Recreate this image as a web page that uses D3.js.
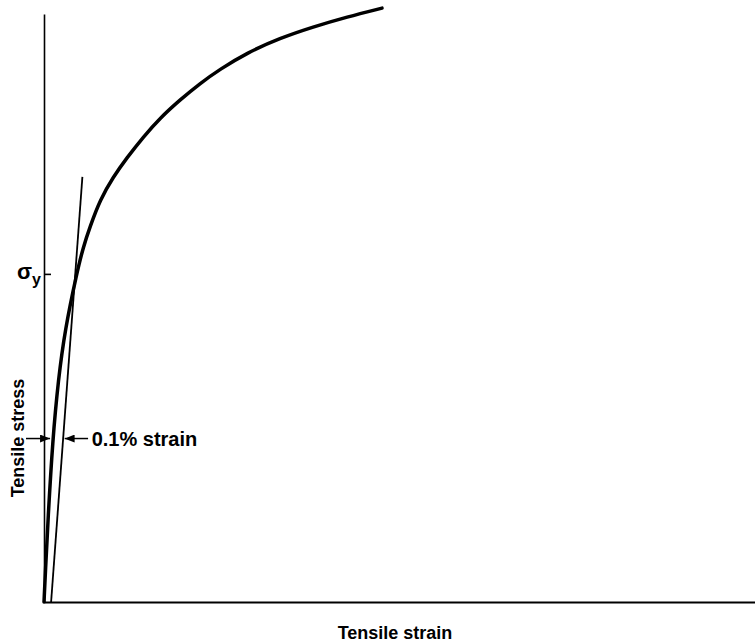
<!DOCTYPE html>
<html>
<head>
    <meta charset="utf-8">
    <title>Tensile stress-strain</title>
    <style>
        * { margin: 0; padding: 0; }
        body { background: #fff; }
        text { font-family: "Liberation Sans", Arial, Helvetica, sans-serif; fill: #000; }
    </style>
    <script src="https://cdn.jsdelivr.net/npm/d3@7/dist/d3.min.js"></script>
</head>
<body>
    <div id="root"></div>
    <script>
        // stress-strain curve, strain in %, stress in arbitrary units (0-100)
        var strain = [0, 0.021, 0.056, 0.122, 0.201, 0.295, 0.460, 0.553, 0.647, 0.788, 0.975, 1.163, 1.397, 1.631, 1.913, 2.194, 2.475, 2.855, 3.319, 3.783, 4.262, 4.754];
        var stress = [0, 5.4, 14.0, 27.6, 37.8, 46.3, 55.9, 60.4, 63.8, 68.4, 72.3, 75.5, 79.1, 82.3, 85.4, 88.2, 90.6, 93.4, 95.9, 97.8, 99.5, 101.0];
        // 0.1% offset line (parallel to elastic part)
        var offsetStrain = [0.1, 0.54];
        var offsetStress = [0, 72.3];
        var yieldStress = 55.8;
        var markStress = 27.8;  // level of the "0.1% strain" arrows

        var width = 755, height = 644;
        var margin = { left: 44, right: 0, top: 14, bottom: 42 };

        var svg = d3.select("#root").append("svg")
            .attr("width", width).attr("height", height);

        var x = d3.scaleLinear().domain([0, 10]).range([margin.left, width - margin.right]);
        var y = d3.scaleLinear().domain([0, 100]).range([height - margin.bottom, margin.top]);

        // axes
        var xAxis = d3.axisBottom(x).tickValues([]).tickSizeOuter(0);
        svg.append("g").attr("class", "x-axis")
            .attr("transform", `translate(0, ${y(0)})`)
            .call(xAxis)
            .select(".domain").attr("stroke", "#000").attr("stroke-width", 2);

        var yAxis = d3.axisLeft(y).tickValues([yieldStress]).tickSizeInner(-7).tickSizeOuter(0).tickFormat("");
        var gy = svg.append("g").attr("class", "y-axis")
            .attr("transform", `translate(${x(0)}, 0)`)
            .call(yAxis);
        gy.select(".domain").attr("stroke", "#000").attr("stroke-width", 1.6);
        gy.selectAll(".tick line").attr("stroke", "#000").attr("stroke-width", 1.6);

        // sigma_y label
        var sig = svg.append("text")
            .attr("x", x(0) - 27).attr("y", y(yieldStress) + 5)
            .attr("text-anchor", "start")
            .style("font-size", "22px").style("font-weight", "bold");
        sig.append("tspan").text("σ");
        sig.append("tspan").attr("dy", 6).style("font-size", "16px").text("y");

        // offset line
        var line = d3.line().x(function (d) { return x(d[0]); }).y(function (d) { return y(d[1]); });
        svg.append("path")
            .datum(d3.zip(offsetStrain, offsetStress))
            .attr("d", line)
            .attr("fill", "none").attr("stroke", "#000").attr("stroke-width", 1.8);

        // stress-strain curve
        var curve = d3.line()
            .x(function (d) { return x(d[0]); })
            .y(function (d) { return y(d[1]); })
            .curve(d3.curveBasis);
        svg.append("path")
            .datum(d3.zip(strain, stress))
            .attr("d", curve)
            .attr("fill", "none").attr("stroke", "#000").attr("stroke-width", 3.5)
            .attr("stroke-linecap", "round");

        // arrows
        var defs = svg.append("defs");
        defs.append("marker").attr("id", "arrow")
            .attr("viewBox", "0 0 10 8").attr("refX", 10).attr("refY", 4)
            .attr("markerWidth", 10).attr("markerHeight", 8)
            .attr("markerUnits", "userSpaceOnUse").attr("orient", "auto")
            .append("path").attr("d", "M0,0 L10,4 L0,8 Z").attr("fill", "#000");

        var ym = y(markStress);
        svg.append("line")
            .attr("x1", x(0) - 18).attr("x2", x(0.085))
            .attr("y1", ym).attr("y2", ym)
            .attr("stroke", "#000").attr("stroke-width", 1.5)
            .attr("marker-end", "url(#arrow)");
        var offAtMark = offsetStrain[0] + (offsetStrain[1] - offsetStrain[0]) * markStress / offsetStress[1];
        svg.append("line")
            .attr("x1", x(0.62)).attr("x2", x(offAtMark) + 1.5)
            .attr("y1", ym).attr("y2", ym)
            .attr("stroke", "#000").attr("stroke-width", 1.5)
            .attr("marker-end", "url(#arrow)");

        svg.append("text")
            .attr("x", x(0.67)).attr("y", ym + 7)
            .style("font-size", "20px").style("font-weight", "bold")
            .text("0.1% strain");

        // axis titles
        svg.append("text")
            .attr("x", (336 + 454) / 2).attr("y", height - 5)
            .attr("text-anchor", "middle")
            .style("font-size", "18px").style("font-weight", "bold")
            .text("Tensile strain");

        svg.append("text")
            .attr("transform", `translate(24, 438) rotate(-90)`)
            .attr("text-anchor", "middle")
            .style("font-size", "18px").style("font-weight", "bold")
            .text("Tensile stress");
    </script>
</body>
</html>
